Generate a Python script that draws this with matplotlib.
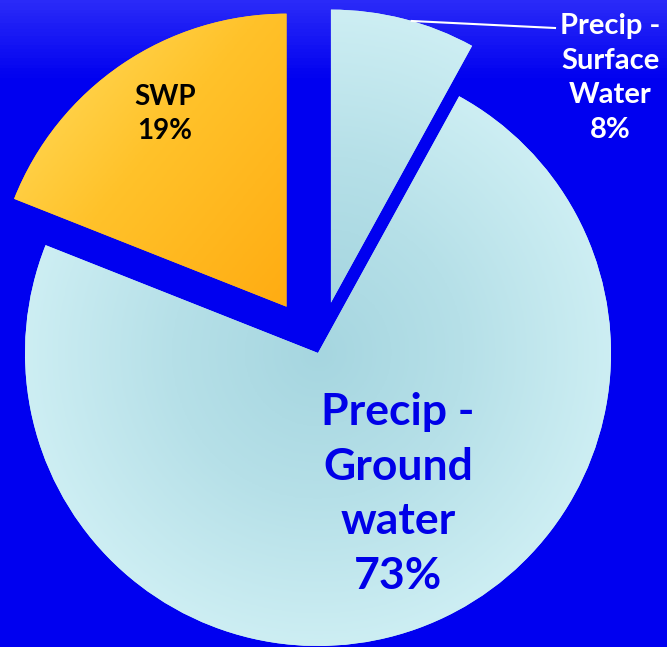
import numpy as np
import matplotlib.pyplot as plt
from matplotlib.colors import LinearSegmentedColormap

labels = ["Precip -\nSurface\nWater", "Precip -\nGround\nwater", "SWP"]
values = [8, 73, 19]

W, H = 667, 647
fig = plt.figure(figsize=(W / 100, H / 100), dpi=100, facecolor="#0000f0")
ax = fig.add_axes([0, 0, 1, 1])

# background: pure blue with a faint lighter band at the top edge
bg = LinearSegmentedColormap.from_list("bg", [(0, "#0000f0"), (0.88, "#0000f0"), (1, "#2a2af8")])
ax.imshow(np.linspace(0, 1, 200).reshape(-1, 1), extent=[0, W, 0, H], origin="lower",
          cmap=bg, aspect="auto", zorder=0)

wedges, _ = ax.pie(values, center=(318, 294), radius=293, startangle=90, counterclock=False,
                   explode=[52, 0, 56], colors=["#b8e2ea", "#b8e2ea", "#ffbf22"],
                   wedgeprops=dict(linewidth=0), frame=True)
ax.set_xlim(0, W)
ax.set_ylim(0, H)
ax.axis("off")

# gradients clipped to the wedges
xx, yy = np.meshgrid(np.linspace(0, W, 400), np.linspace(0, H, 400))
water = LinearSegmentedColormap.from_list("water", ["#a6d6e0", "#b6e0e8", "#cdeef3"])
for w in wedges[:2]:
    cx, cy = w.center
    r = np.hypot(xx - cx, yy - cy) / w.r
    im = ax.imshow(r, extent=[0, W, 0, H], origin="lower", cmap=water, vmin=0, vmax=1,
                   aspect="auto", zorder=2)
    im.set_clip_path(w)

gold = LinearSegmentedColormap.from_list("gold", ["#ffac12", "#ffc22a", "#ffe268"])
sw = wedges[2]
cx, cy = sw.center
g = ((cx - xx) * 0.55 + (yy - cy) * 0.45) / sw.r
im = ax.imshow(g, extent=[0, W, 0, H], origin="lower", cmap=gold, vmin=0, vmax=1,
               aspect="auto", zorder=2)
im.set_clip_path(sw)

fam = ["Lato", "DejaVu Sans"]

# labels
ax.text(165, H - 114, labels[2] + "\n" + str(values[2]) + "%", ha="center", va="center",
        fontsize=20, fontweight="bold", color="black", family=fam, linespacing=1.4, zorder=5)
ax.text(398, H - 494, labels[1] + "\n" + str(values[1]) + "%", ha="center", va="center",
        fontsize=32, fontweight="bold", color="#0000e8", family=fam, linespacing=1.45, zorder=5)
ax.text(610, H - 78, labels[0] + "\n" + str(values[0]) + "%", ha="center", va="center",
        fontsize=21, fontweight="bold", color="white", family=fam, linespacing=1.4, zorder=5)

# leader line from the surface water wedge
sx, sy = wedges[0].center
t = np.deg2rad(74)
ax.plot([sx + wedges[0].r * np.cos(t), 555], [sy + wedges[0].r * np.sin(t), H - 28],
        color="white", lw=1.5, zorder=5)

fig.savefig("out.png", dpi=100, facecolor=fig.get_facecolor())
